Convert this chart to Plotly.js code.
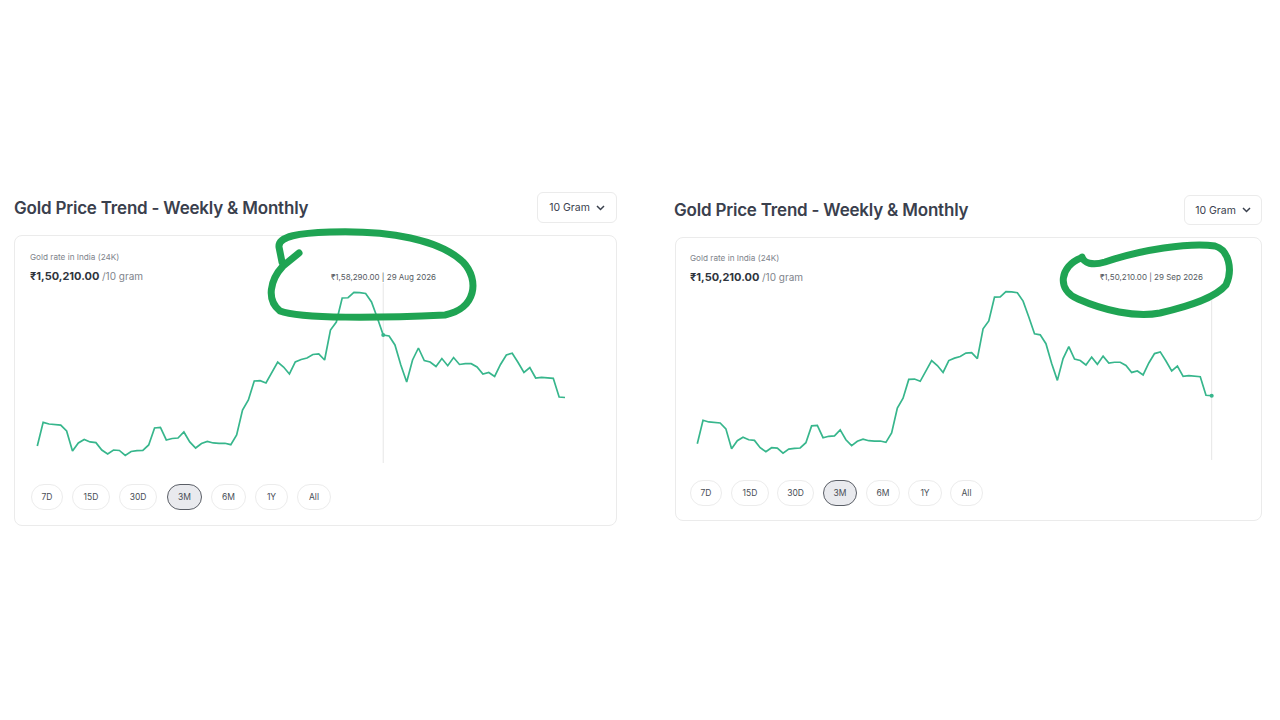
<!DOCTYPE html>
<html>
<head>
<meta charset="utf-8">
<script src="https://cdn.plot.ly/plotly-3.0.1.min.js"></script>
<style>
  html, body { margin:0; padding:0; background:#ffffff; width:1280px; height:720px; overflow:hidden; font-family:Inter, "Noto Sans", sans-serif; }
  .abs { position:absolute; }
  .title { font-size:17px; font-weight:600; color:#3a404d; line-height:22px; white-space:nowrap; letter-spacing:-0.2px; }
  .card { border:1px solid #ebebeb; border-radius:8px; box-sizing:border-box; background:#fff; }
  .dd { border:1px solid #ebebeb; border-radius:6px; box-sizing:border-box; background:#fff; font-size:10.5px; color:#3a404d; display:flex; align-items:center; justify-content:center; gap:6px; }
  .sub { font-size:8.2px; color:#80848c; line-height:12px; white-space:nowrap; }
  .price { font-size:11px; font-weight:700; color:#2f343c; line-height:16px; white-space:nowrap; }
  .price span { font-weight:400; color:#80848c; font-size:10px; }
  .btn { border:1px solid #ececec; border-radius:14px; box-sizing:border-box; height:26px; font-size:8.5px; color:#4a4f57; display:flex; align-items:center; justify-content:center; background:#fff; }
  .btn.sel { background:#e9eaee; border:1px solid #5a5e66; }
  .plot { position:absolute; }
</style>
</head>
<body>
<script>
// ---------- data ----------
const dates = [
 '2026-07-01','2026-07-02','2026-07-03','2026-07-04','2026-07-05','2026-07-06','2026-07-07','2026-07-08','2026-07-09','2026-07-10',
 '2026-07-11','2026-07-12','2026-07-13','2026-07-14','2026-07-15','2026-07-16','2026-07-17','2026-07-18','2026-07-19','2026-07-20',
 '2026-07-21','2026-07-22','2026-07-23','2026-07-24','2026-07-25','2026-07-26','2026-07-27','2026-07-28','2026-07-29','2026-07-30',
 '2026-07-31','2026-08-01','2026-08-02','2026-08-03','2026-08-04','2026-08-05','2026-08-06','2026-08-07','2026-08-08','2026-08-09',
 '2026-08-10','2026-08-11','2026-08-12','2026-08-13','2026-08-14','2026-08-15','2026-08-16','2026-08-17','2026-08-18','2026-08-19',
 '2026-08-20','2026-08-21','2026-08-22','2026-08-23','2026-08-24','2026-08-25','2026-08-26','2026-08-27','2026-08-28','2026-08-29',
 '2026-08-30','2026-08-31','2026-09-01','2026-09-02','2026-09-03','2026-09-04','2026-09-05','2026-09-06','2026-09-07','2026-09-08',
 '2026-09-09','2026-09-10','2026-09-11','2026-09-12','2026-09-13','2026-09-14','2026-09-15','2026-09-16','2026-09-17','2026-09-18',
 '2026-09-19','2026-09-20','2026-09-21','2026-09-22','2026-09-23','2026-09-24','2026-09-25','2026-09-26','2026-09-27','2026-09-28',
 '2026-09-29'
];
const prices = [
 143940,147000,146780,146720,146650,145880,143290,144330,144780,144460,
 144370,143420,142900,143420,143360,142710,143230,143330,143380,144070,
 146270,146330,144720,144910,144970,145750,144460,143680,144260,144520,
 144330,144290,144290,144110,145360,148590,149890,152340,152380,152090,
 153510,154800,154150,153250,154800,155120,155320,155770,155840,155060,
 158940,159970,163080,163110,163790,163780,163660,162560,160490,158290,
 158160,157000,154410,152210,155060,156610,154990,154800,154220,155250,
 154320,155380,154480,154580,154580,154150,153250,153440,152930,154480,
 155710,155930,154740,153440,154090,152730,152820,152760,152690,150270,
 150210
];
const rangeButtons = ['7D','15D','30D','3M','6M','1Y','All'];
const selectedRange = '3M';
const chartTitle = 'Gold Price Trend - Weekly & Monthly';
const unitLabel = '10 Gram';
const subLabel = 'Gold rate in India (24K)';
const currentPrice = 150210;
const hoverLeft = '2026-08-29';
const hoverRight = '2026-09-29';
const monthNames = ['Jan','Feb','Mar','Apr','May','Jun','Jul','Aug','Sep','Oct','Nov','Dec'];

function inr(v){
  const s = Math.round(v).toString();
  const last3 = s.slice(-3);
  let rest = s.slice(0,-3);
  rest = rest.replace(/\B(?=(\d{2})+(?!\d))/g, ',');
  return (rest ? rest + ',' : '') + last3 + '.00';
}
function dlabel(d){
  const p = d.split('-');
  return parseInt(p[2],10) + ' ' + monthNames[parseInt(p[1],10)-1] + ' ' + p[0];
}

// ---------- static panel ----------
function el(cls, css, html){
  const d = document.createElement('div');
  d.className = 'abs ' + cls;
  Object.assign(d.style, css);
  if (html !== undefined) d.innerHTML = html;
  document.body.appendChild(d);
  return d;
}
const chev = '<svg width="9" height="6" viewBox="0 0 9 6"><path d="M1 1 L4.5 4.5 L8 1" stroke="#3a404d" stroke-width="1.5" fill="none"/></svg>';

function panel(p){
  el('title', {left:p.tx+'px', top:p.ty+'px'}, chartTitle);
  el('dd', {left:p.dx+'px', top:p.dy+'px', width:p.dw+'px', height:p.dh+'px'}, '<span>'+unitLabel+'</span>'+chev);
  el('card', {left:p.cx+'px', top:p.cy+'px', width:p.cw+'px', height:p.ch+'px'});
  el('sub', {left:p.sx+'px', top:p.sy+'px'}, subLabel);
  el('price', {left:p.sx+'px', top:(p.sy+17)+'px'}, '₹' + inr(currentPrice) + ' <span>/10 gram</span>');
  rangeButtons.forEach((b,i)=>{
    el('btn' + (b===selectedRange?' sel':''), {left:p.bx[i]+'px', top:p.by+'px', width:p.bw[i]+'px'}, b);
  });
}
panel({tx:14, ty:197, dx:537, dy:192, dw:80, dh:31, cx:14, cy:235, cw:603, ch:291, sx:30, sy:251,
       bx:[31,72,119,167,211,255,297], bw:[32,38,38,35,35,33,34], by:484});
panel({tx:674, ty:199, dx:1184, dy:195, dw:78, dh:30, cx:675, cy:237, cw:587, ch:284, sx:690, sy:252,
       bx:[690,731,777,823,866,908,950], bw:[32,38,37,34,34,34,33], by:480});

// ---------- charts ----------
function chart(opt){
  const div = document.createElement('div');
  div.className = 'plot';
  Object.assign(div.style, {left:opt.left+'px', top:opt.top+'px', width:opt.w+'px', height:opt.h+'px'});
  document.body.appendChild(div);
  const hi = dates.indexOf(opt.hover);
  const lineColor = '#37b68c';
  const traces = [
    {x:dates, y:prices, type:'scatter', mode:'lines', line:{color:lineColor, width:1.7}, hoverinfo:'skip'},
    {x:[dates[hi]], y:[prices[hi]], type:'scatter', mode:'markers', marker:{color:lineColor, size:4}, hoverinfo:'skip', cliponaxis:false}
  ];
  const layout = {
    width:opt.w, height:opt.h,
    margin:{l:0,r:0,t:0,b:0,pad:0},
    paper_bgcolor:'rgba(0,0,0,0)', plot_bgcolor:'rgba(0,0,0,0)',
    showlegend:false,
    xaxis:{type:'date', range:opt.xr, visible:false, fixedrange:true},
    yaxis:{range:opt.yr, visible:false, fixedrange:true},
    shapes:[{type:'line', xref:'x', yref:'paper', x0:dates[hi], x1:dates[hi], y0:opt.ly0, y1:opt.ly1,
             line:{color:'#e6e6e6', width:1}, layer:'below'}],
    annotations:[{xref:opt.axref, yref:'paper', x:opt.ax, y:opt.ay, xanchor:opt.axanchor, yanchor:'middle',
                  showarrow:false, text:'₹' + inr(prices[hi]) + ' | ' + dlabel(dates[hi]),
                  font:{family:'Inter, Noto Sans, sans-serif', size:8, color:'#555a62'}}]
  };
  Plotly.newPlot(div, traces, layout, {staticPlot:true, displayModeBar:false});
}
chart({left:30, top:265, w:545, h:205,
       xr:['2026-06-29 18:07','2026-09-30 16:57'], yr:[140835,167342],
       hover:hoverLeft, ly0:0.034, ly1:0.912, axref:'x', ax:hoverLeft, axanchor:'center', ay:0.9415});
chart({left:690, top:265, w:535, h:205,
       xr:['2026-06-29 17:21','2026-10-01 07:51'], yr:[140506,167279],
       hover:hoverRight, ly0:0.049, ly1:0.829, axref:'paper', ax:0.9626, axanchor:'right', ay:0.9415});
</script>
<svg class="abs" style="left:0;top:0;pointer-events:none" width="1280" height="720" viewBox="0 0 1280 720">
  <path d="M 299 253 L 283 266 C 270 280 266 300 280 311 C 300 319 380 318 445 315 C 476 309 480 280 463 262 C 440 240 390 230 330 232 C 300 233 278 236 279 247 L 282 262"
        fill="none" stroke="#1fa453" stroke-width="7" stroke-linecap="round" stroke-linejoin="round"/>
  <path d="M 1081 258 C 1060 266 1056 290 1078 299 C 1103 310 1135 318 1160 313 C 1190 306 1215 298 1226 285 C 1233 270 1229 250 1215 246 C 1190 242 1140 250 1105 262 C 1092 266 1084 263 1082 257"
        fill="none" stroke="#1fa453" stroke-width="7" stroke-linecap="round" stroke-linejoin="round"/>
</svg>
</body>
</html>
